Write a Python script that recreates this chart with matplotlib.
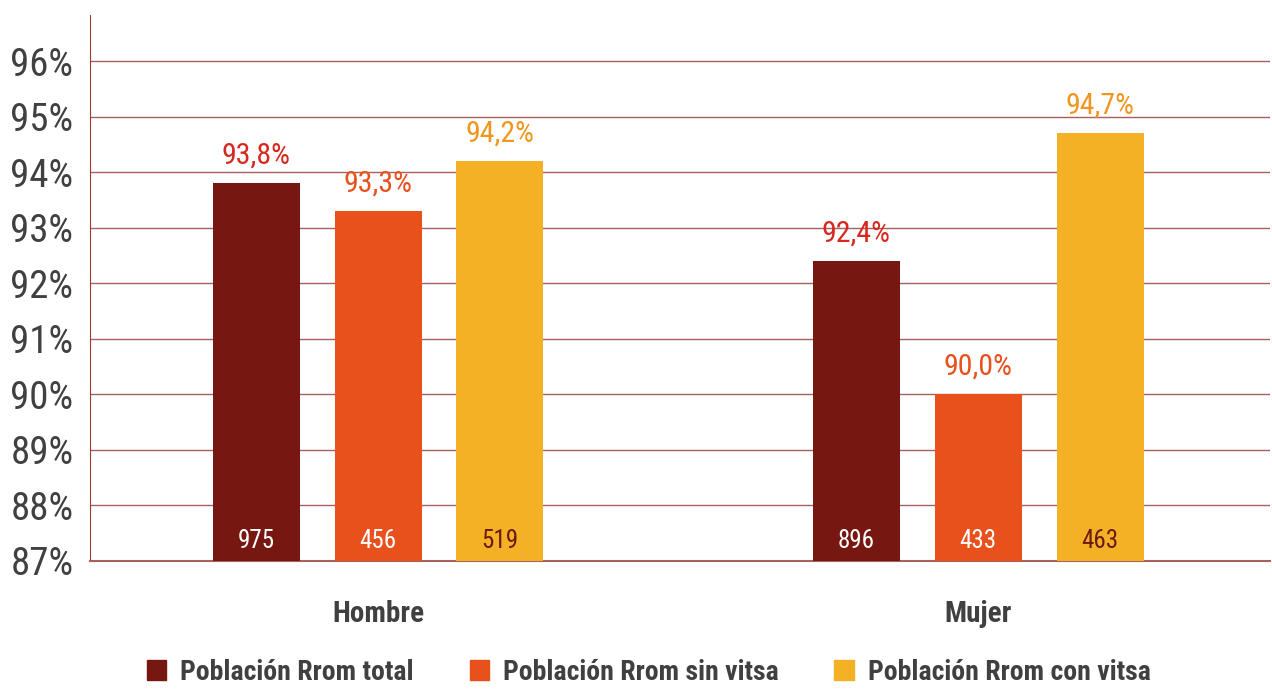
import matplotlib.pyplot as plt
import numpy as np
from matplotlib.patches import Patch

plt.rcParams["font.family"] = ["Roboto Condensed", "Liberation Sans Narrow", "Roboto", "DejaVu Sans"]

categories = ["Hombre", "Mujer"]
series = ["Población Rrom total", "Población Rrom sin vitsa", "Población Rrom con vitsa"]
pct_total = [93.8, 92.4]
pct_sin = [93.3, 90.0]
pct_con = [94.2, 94.7]
n_total = [975, 896]
n_sin = [456, 433]
n_con = [519, 463]
yticks = [87, 88, 89, 90, 91, 92, 93, 94, 95, 96]

colors = ["#771711", "#E8501C", "#F4B125"]
pct_colors = ["#D7281E", "#E8501C", "#F0961F"]
count_colors = ["white", "white", "#6A1A10"]

fig = plt.figure(figsize=(12.72, 6.90), dpi=100)
ax = fig.add_axes([0.0708, 0.187, 0.928, 0.791])

x = np.arange(len(categories))
width = 0.145
offset = 0.203
values = [pct_total, pct_sin, pct_con]
counts = [n_total, n_sin, n_con]

for i, (vals, cnts) in enumerate(zip(values, counts)):
    xs = x + (i - 1) * offset
    ax.bar(xs, [v - 87 for v in vals], width, bottom=87, color=colors[i], zorder=3)
    for xi, v, c in zip(xs, vals, cnts):
        ax.text(xi, v + 0.25, f"{v:.1f}%".replace(".", ","), ha="center", va="bottom",
                fontsize=21.5, color=pct_colors[i])
        ax.text(xi, 87.15, str(c), ha="center", va="bottom", fontsize=18,
                color=count_colors[i], zorder=4)

ax.set_xlim(-0.48, 1.487)
ax.set_ylim(87, 96.83)
ax.set_yticks(yticks)
ax.set_yticklabels([f"{t}%" for t in yticks], fontsize=28, color="#404040")
ax.set_xticks(x)
ax.set_xticklabels(categories, fontsize=21, fontweight="bold", color="#404040")
ax.tick_params(axis="x", length=0, pad=28)
ax.tick_params(axis="y", length=0, pad=12)
ax.grid(axis="y", color="#A8605E", linewidth=1, zorder=0)

for s in ["top", "right"]:
    ax.spines[s].set_visible(False)
ax.spines["left"].set_color("#9E3A3A")
ax.spines["bottom"].set_color("#A8605E")
ax.spines["bottom"].set_linewidth(1.5)

handles = [Patch(color=c) for c in colors]
fig.legend(handles, series, loc="lower center", bbox_to_anchor=(0.51, -0.03), ncol=3,
           frameon=False, handlelength=0.7, handleheight=0.7, handletextpad=0.5,
           columnspacing=2.0, prop={"size": 20, "weight": "bold"}, labelcolor="#404040")

fig.savefig("out.png", dpi=100)
